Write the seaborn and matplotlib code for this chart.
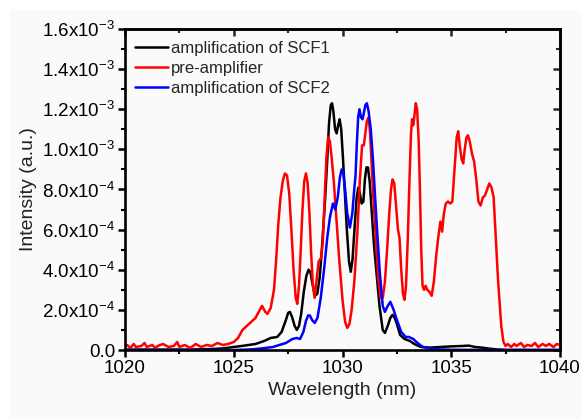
import numpy as np
import pandas as pd
import matplotlib
matplotlib.use("Agg")
import matplotlib.pyplot as plt
import seaborn as sns
from matplotlib.patches import Rectangle
from matplotlib.ticker import MultipleLocator, FuncFormatter

# spectra, intensity in units of 1e-4 a.u.
wl_pre = [1020.0, 1020.1, 1020.25, 1020.4, 1020.5, 1020.75, 1020.9, 1021.0, 1021.25, 1021.4,
          1021.5, 1021.75, 1022.0, 1022.25, 1022.4, 1022.5, 1022.75, 1023.0, 1023.25, 1023.5,
          1023.75, 1024.0, 1024.25, 1024.5, 1024.75, 1025.0,
          1025.2, 1025.4, 1025.6, 1025.8, 1026.0, 1026.15, 1026.3, 1026.45, 1026.55, 1026.7,
          1026.85, 1026.95, 1027.05, 1027.15, 1027.25, 1027.35, 1027.45, 1027.55, 1027.65, 1027.75,
          1027.85, 1027.92, 1028.0, 1028.08, 1028.16, 1028.24, 1028.32, 1028.4, 1028.48, 1028.56,
          1028.64, 1028.72, 1028.8, 1028.9, 1029.02, 1029.1, 1029.18, 1029.26, 1029.34, 1029.42,
          1029.5, 1029.6, 1029.72, 1029.85, 1030.0, 1030.12, 1030.22, 1030.32, 1030.42, 1030.55,
          1030.68, 1030.8, 1030.9, 1030.98, 1031.05, 1031.12, 1031.2, 1031.27, 1031.35, 1031.45,
          1031.55, 1031.65, 1031.75, 1031.85, 1031.95, 1032.05, 1032.15, 1032.23, 1032.3, 1032.38,
          1032.46, 1032.55, 1032.62, 1032.7, 1032.78, 1032.85, 1032.92, 1033.0, 1033.08, 1033.15,
          1033.2, 1033.25, 1033.3, 1033.37, 1033.43, 1033.5, 1033.56, 1033.62, 1033.68, 1033.75,
          1033.82, 1033.9, 1034.0, 1034.1, 1034.2, 1034.3, 1034.4, 1034.5, 1034.58, 1034.66,
          1034.75, 1034.85, 1034.95, 1035.05, 1035.15, 1035.25, 1035.32, 1035.4, 1035.48, 1035.55,
          1035.62, 1035.7, 1035.77, 1035.85, 1035.95, 1036.05, 1036.15, 1036.25, 1036.35, 1036.45,
          1036.55, 1036.65, 1036.75, 1036.85, 1036.95, 1037.05, 1037.15, 1037.3, 1037.4, 1037.5,
          1037.6, 1037.75, 1037.9, 1038.0, 1038.2, 1038.35, 1038.5, 1038.7, 1038.85, 1039.0,
          1039.2, 1039.35, 1039.5, 1039.7, 1039.85, 1040.0]
int_pre = [0.15, 0.25, 0.1, 0.3, 0.15, 0.2, 0.35, 0.15, 0.25, 0.1,
           0.2, 0.3, 0.15, 0.2, 0.4, 0.15, 0.25, 0.1, 0.3, 0.15,
           0.25, 0.2, 0.35, 0.25, 0.3, 0.4,
           0.6, 1.0, 1.2, 1.4, 1.6, 1.9, 2.2, 1.9, 1.8, 2.1,
           3.0, 4.5, 6.3, 7.6, 8.4, 8.8, 8.7, 7.8, 6.0, 4.0,
           2.6, 2.3, 3.2, 5.0, 7.0, 8.4, 8.8, 8.3, 6.8, 4.8,
           3.2, 2.6, 3.4, 4.4, 4.6, 5.5, 7.5, 9.6, 10.6, 10.4,
           9.6, 8.4, 6.5, 4.5, 2.5, 1.4, 1.1, 1.3, 2.0, 3.5,
           5.8, 8.5, 10.2, 10.2, 10.8, 11.4, 11.6, 10.8, 9.0, 7.0,
           5.2, 3.5, 2.6, 2.6, 3.4, 5.0, 6.8, 8.0, 8.5, 8.3,
           7.2, 6.0, 5.6, 4.0, 2.8, 2.5, 3.2, 5.5, 8.5, 10.8,
           11.5, 11.2, 11.6, 12.3, 12.0, 10.5, 8.0, 5.0, 3.2, 3.0,
           3.2, 3.0, 2.9, 2.7, 3.4, 4.6, 5.6, 6.4, 5.9, 6.8,
           7.3, 7.4, 7.3, 7.4, 9.0, 10.6, 10.9, 10.1, 9.5, 9.3,
           10.0, 10.6, 10.7, 10.4, 9.8, 9.4, 8.5, 7.4, 7.2, 7.6,
           7.7, 8.0, 8.3, 8.1, 7.6, 5.5, 3.5, 1.2, 0.4, 0.2,
           0.3, 0.15, 0.3, 0.2, 0.35, 0.15, 0.25, 0.2, 0.35, 0.15,
           0.3, 0.2, 0.3, 0.15, 0.3, 0.25]

wl_scf1 = [1020.0, 1023.0, 1024.0, 1024.5, 1025.0, 1025.5, 1026.0, 1026.4, 1026.7, 1027.0,
           1027.2, 1027.4, 1027.5, 1027.58, 1027.68, 1027.8, 1027.9, 1028.0, 1028.1, 1028.22,
           1028.34, 1028.44, 1028.52, 1028.62, 1028.74, 1028.84, 1028.95, 1029.05, 1029.2, 1029.3,
           1029.38, 1029.46, 1029.52, 1029.58, 1029.66, 1029.73, 1029.8, 1029.87, 1029.94, 1030.02,
           1030.1, 1030.2, 1030.3, 1030.38, 1030.46, 1030.55, 1030.65, 1030.73, 1030.8, 1030.88,
           1030.96, 1031.03, 1031.1, 1031.17, 1031.25, 1031.35, 1031.45, 1031.55, 1031.7, 1031.85,
           1031.95, 1032.08, 1032.2, 1032.3, 1032.4, 1032.5, 1032.65, 1032.85, 1033.1, 1033.3,
           1033.6, 1034.0, 1034.5, 1035.0, 1035.5, 1035.8, 1036.1, 1036.4, 1036.8, 1037.2,
           1037.5, 1040.0]
int_scf1 = [0.02, 0.02, 0.05, 0.08, 0.15, 0.22, 0.3, 0.45, 0.6, 0.65,
            0.9, 1.5, 1.85, 1.9, 1.65, 1.2, 1.0, 1.2, 1.8, 2.9,
            3.7, 4.0, 3.9, 3.3, 2.7, 2.8, 3.6, 5.0, 7.5, 9.5,
            11.3, 12.2, 12.3, 11.9, 11.0, 10.8, 11.2, 11.5, 11.0, 9.6,
            8.0, 6.0, 4.4, 3.9, 4.5, 6.0, 7.6, 8.1, 7.8, 7.3,
            7.4, 8.5, 9.1, 9.1, 8.4, 6.8, 5.2, 4.0, 2.2, 1.0,
            0.85, 1.2, 1.6, 1.75, 1.6, 1.3, 0.75, 0.55, 0.45, 0.3,
            0.15, 0.12, 0.15, 0.18, 0.2, 0.22, 0.15, 0.12, 0.06, 0.02,
            0.0, 0.0]

wl_scf2 = [1020.0, 1025.0, 1025.8, 1026.3, 1026.8, 1027.1, 1027.4, 1027.7, 1027.9, 1028.05,
           1028.2, 1028.32, 1028.42, 1028.5, 1028.6, 1028.72, 1028.85, 1029.0, 1029.15, 1029.3,
           1029.42, 1029.56, 1029.67, 1029.78, 1029.88, 1029.96, 1030.04, 1030.12, 1030.22, 1030.34,
           1030.45, 1030.54, 1030.6, 1030.66, 1030.72, 1030.78, 1030.85, 1030.92, 1030.98, 1031.05,
           1031.12, 1031.2, 1031.3, 1031.4, 1031.5, 1031.6, 1031.72, 1031.85, 1031.95, 1032.08,
           1032.2, 1032.35, 1032.5, 1032.7, 1032.9, 1033.05, 1033.25, 1033.45, 1033.7, 1034.0,
           1034.5, 1035.0, 1040.0]
int_scf2 = [0.0, 0.0, 0.03, 0.08, 0.15, 0.25, 0.35, 0.55, 0.6, 0.55,
            0.9, 1.45, 1.72, 1.72, 1.5, 1.35, 1.6, 2.6, 4.0, 5.6,
            6.6, 7.3, 7.0, 7.6, 8.6, 9.0, 8.8, 8.0, 6.8, 6.1,
            6.8, 8.0, 8.7, 10.3, 11.6, 12.0, 11.6, 11.5, 11.8, 12.2,
            12.3, 11.9, 11.0, 9.5, 7.6, 5.8, 3.8, 2.2, 1.9, 2.2,
            2.4, 2.0, 1.5, 0.9, 0.65, 0.65, 0.55, 0.35, 0.15, 0.08,
            0.03, 0.01, 0.0]

labels = ["amplification of SCF1", "pre-amplifier", "amplification of SCF2"]
colors = ["black", "#ff0000", "#0000ff"]

frames = []
for lab, wl, it in zip(labels, [wl_scf1, wl_pre, wl_scf2], [int_scf1, int_pre, int_scf2]):
    frames.append(pd.DataFrame({"wl": wl, "I": np.array(it) * 1e-4, "series": lab}))
df = pd.concat(frames, ignore_index=True)

sns.set_theme(style="ticks")
plt.rcParams["font.family"] = ["Liberation Sans", "DejaVu Sans"]
plt.rcParams["mathtext.default"] = "regular"
plt.rcParams["axes.unicode_minus"] = False

bg = "#fafafa"
fig = plt.figure(figsize=(5.81, 4.19), dpi=100, facecolor="white")
fig.patches.append(Rectangle((10 / 581, 0), 1, 1 - 10 / 419, transform=fig.transFigure,
                             facecolor=bg, edgecolor="none", zorder=-10))
ax = fig.add_axes([125 / 581, 1 - 350 / 419, 435 / 581, 321 / 419])
ax.set_facecolor(bg)

sns.lineplot(data=df, x="wl", y="I", hue="series", hue_order=labels, palette=colors,
             estimator=None, sort=False, linewidth=1.8, ax=ax)
for ln in ax.get_lines():
    ln.set_solid_joinstyle("round")
    ln.set_solid_capstyle("round")

ax.set_xlim(1020, 1040)
ax.set_ylim(0, 1.6e-3)
ax.xaxis.set_major_locator(MultipleLocator(5))
ax.xaxis.set_minor_locator(MultipleLocator(2.5))
ax.yaxis.set_major_locator(MultipleLocator(2e-4))
ax.yaxis.set_minor_locator(MultipleLocator(1e-4))


def sci_fmt(v, pos):
    if abs(v) < 1e-12:
        return "0.0"
    e = int(np.floor(np.log10(abs(v)) + 1e-9))
    m = v / 10 ** e
    return f"{m:.1f}x10$^{{{e}}}$"


ax.yaxis.set_major_formatter(FuncFormatter(sci_fmt))
ax.tick_params(which="major", direction="out", length=5, width=1.8, labelsize=13.5, pad=2,
               color="black", labelcolor="black")
ax.tick_params(which="minor", direction="out", length=3, width=1.5, color="black")

for s in ax.spines.values():
    s.set_linewidth(1.9)
    s.set_color("black")
    s.set_visible(True)

top = ax.secondary_xaxis("top")
top.xaxis.set_major_locator(MultipleLocator(5))
top.xaxis.set_minor_locator(MultipleLocator(2.5))
top.tick_params(which="major", direction="in", length=5, width=1.8, labeltop=False)
top.tick_params(which="minor", direction="in", length=3, width=1.5)
top.spines["top"].set_linewidth(1.9)

right = ax.secondary_yaxis("right")
right.yaxis.set_major_locator(MultipleLocator(2e-4))
right.yaxis.set_minor_locator(MultipleLocator(1e-4))
right.tick_params(which="major", direction="in", length=5, width=1.8, labelright=False)
right.tick_params(which="minor", direction="in", length=3, width=1.5)
right.spines["right"].set_linewidth(1.9)

ax.set_xlabel("Wavelength (nm)", fontsize=14, color="#222222", labelpad=4)
ax.set_ylabel("Intensity (a.u.)", fontsize=14, color="#222222", labelpad=4)

leg = ax.legend(loc="upper left", bbox_to_anchor=(0.0, 0.995), frameon=False, fontsize=12,
                handlelength=2.0, handletextpad=0.15, labelspacing=0.3, borderaxespad=0.2)
for line in leg.get_lines():
    line.set_linewidth(1.8)

fig.savefig("out.png", dpi=100, facecolor=fig.get_facecolor())
